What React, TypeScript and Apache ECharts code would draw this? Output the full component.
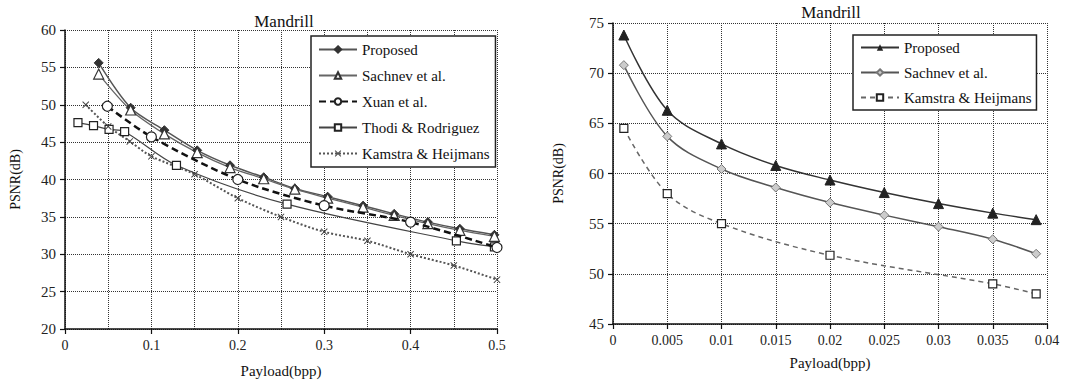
import React, { useEffect, useRef } from "react";
import * as echarts from "echarts";

// Left chart data
const L_PROP_X = [0.039, 0.076, 0.115, 0.153, 0.191, 0.23, 0.266, 0.304, 0.345, 0.381, 0.42, 0.457, 0.497];
const L_PROP_Y = [55.6, 49.6, 46.6, 43.9, 41.9, 40.3, 38.8, 37.7, 36.5, 35.4, 34.3, 33.4, 32.6];
const L_SACH_Y = [54.1, 49.3, 46.1, 43.6, 41.6, 40.1, 38.7, 37.5, 36.3, 35.2, 34.1, 33.2, 32.4];
const L_XUAN_X = [0.049, 0.1, 0.2, 0.3, 0.4, 0.5];
const L_XUAN_Y = [49.8, 45.7, 40.0, 36.5, 34.3, 30.9];
const L_THODI_X = [0.015, 0.033, 0.051, 0.069, 0.129, 0.257, 0.453, 0.497];
const L_THODI_Y = [47.6, 47.2, 46.7, 46.4, 41.9, 36.7, 31.8, 31.0];
const L_KAM_X = [0.024, 0.05, 0.075, 0.1, 0.15, 0.2, 0.25, 0.3, 0.35, 0.4, 0.45, 0.5];
const L_KAM_Y = [50.0, 47.1, 45.1, 43.1, 40.7, 37.5, 35.0, 33.0, 31.8, 30.0, 28.5, 26.6];

// Right chart data
const R_X = [0.001, 0.005, 0.01, 0.015, 0.02, 0.025, 0.03, 0.035, 0.039];
const R_PROP_Y = [73.8, 66.3, 62.95, 60.8, 59.35, 58.1, 57.0, 56.05, 55.4];
const R_SACH_Y = [70.8, 63.7, 60.45, 58.6, 57.1, 55.85, 54.7, 53.45, 52.0];
const R_KAM_X = [0.001, 0.005, 0.01, 0.02, 0.035, 0.039];
const R_KAM_Y = [64.5, 58.0, 55.0, 51.85, 49.0, 48.0];

const LEFT_NAMES = ["Proposed", "Sachnev et al.", "Xuan et al.", "Thodi & Rodriguez", "Kamstra & Heijmans"];
const RIGHT_NAMES = ["Proposed", "Sachnev et al.", "Kamstra & Heijmans"];
const TITLE = "Mandrill";
const X_NAME = "Payload(bpp)";
const Y_NAME = "PSNR(dB)";

const zip = (xs: number[], ys: number[]) => xs.map((x, i) => [x, ys[i]]);

const FONT = "'Liberation Serif', 'Times New Roman', serif";
const X_SYMBOL = "path://M0,1L1,0L5,4L9,0L10,1L6,5L10,9L9,10L5,6L1,10L0,9L4,5Z";

export default function App() {
  const ref = useRef<HTMLDivElement>(null);
  useEffect(() => {
    if (!ref.current) return;
    const chart = echarts.init(ref.current, undefined, { renderer: "svg" });
    const dotted = { type: [1, 1] as any, color: "#333", width: 1 };
    const axisLine = { show: true, lineStyle: { color: "#111", width: 1.5 } };
    const axisTick = { show: true, inside: false, length: 5, lineStyle: { color: "#111", width: 1.2 } };
    const xLabel = { fontFamily: FONT, fontSize: 14, color: "#222", margin: 9 };
    const yLabel = { fontFamily: FONT, fontSize: 15, color: "#222", margin: 9 };
    const nameStyle = { fontFamily: FONT, fontSize: 15, color: "#111" };

    const option: any = {
      animation: false,
      backgroundColor: "#fff",
      graphic: [
        { type: "text", x: 284, y: 21, style: { text: TITLE, font: `17px ${FONT}`, fill: "#111", textAlign: "center", textVerticalAlign: "middle" } },
        { type: "text", x: 831, y: 12, style: { text: TITLE, font: `17px ${FONT}`, fill: "#111", textAlign: "center", textVerticalAlign: "middle" } },
      ],
      grid: [
        { left: 65, top: 30, width: 432, height: 299, containLabel: false },
        { left: 613, top: 23, width: 434, height: 301, containLabel: false },
      ],
      xAxis: [
        {
          gridIndex: 0, type: "value", min: 0, max: 0.5, interval: 0.1,
          name: X_NAME, nameLocation: "middle", nameGap: 34, nameTextStyle: nameStyle,
          axisLine, axisTick, axisLabel: xLabel,
          splitLine: { show: true, lineStyle: dotted },
          minorTick: { show: false, splitNumber: 2 },
          minorSplitLine: { show: true, lineStyle: dotted },
        },
        {
          gridIndex: 1, type: "value", min: 0, max: 0.04, interval: 0.005,
          name: X_NAME, nameLocation: "middle", nameGap: 31, nameTextStyle: nameStyle,
          axisLine, axisTick, axisLabel: xLabel,
          splitLine: { show: true, lineStyle: dotted },
        },
      ],
      yAxis: [
        {
          gridIndex: 0, type: "value", min: 20, max: 60, interval: 5,
          name: Y_NAME, nameLocation: "middle", nameGap: 43, nameTextStyle: { ...nameStyle, fontSize: 14 },
          axisLine, axisTick, axisLabel: yLabel,
          splitLine: { show: true, lineStyle: dotted },
        },
        {
          gridIndex: 1, type: "value", min: 45, max: 75, interval: 5,
          name: Y_NAME, nameLocation: "middle", nameGap: 48, nameTextStyle: { ...nameStyle, fontSize: 14 },
          axisLine, axisTick, axisLabel: yLabel,
          splitLine: { show: true, lineStyle: dotted },
        },
      ],
      legend: [
        {
          data: LEFT_NAMES.map((n) => ({ name: n })),
          orient: "vertical", left: 311, top: 36,
          itemWidth: 38, itemHeight: 8, itemGap: 11,
          padding: [6, 6, 6, 7],
          borderColor: "#222", borderWidth: 1.5, backgroundColor: "#fff",
          textStyle: { fontFamily: FONT, fontSize: 15, color: "#111", lineHeight: 14 },
          selectedMode: false,
        },
        {
          data: RIGHT_NAMES.map((n) => ({ name: "R_" + n })),
          formatter: (n: string) => n.replace(/^R_/, ""),
          orient: "vertical", left: 853, top: 35,
          itemWidth: 38, itemHeight: 8, itemGap: 10,
          padding: [5, 5, 5, 7],
          borderColor: "#222", borderWidth: 1.5, backgroundColor: "#fff",
          textStyle: { fontFamily: FONT, fontSize: 15, color: "#111", lineHeight: 14 },
          selectedMode: false,
        },
      ],
      series: [
        {
          name: LEFT_NAMES[0], type: "line", xAxisIndex: 0, yAxisIndex: 0, smooth: 0.3,
          data: zip(L_PROP_X, L_PROP_Y), symbol: "diamond", symbolSize: 9,
          lineStyle: { color: "#555", width: 1.5 }, itemStyle: { color: "#333", borderColor: "#333", borderWidth: 1 },
        },
        {
          name: LEFT_NAMES[1], type: "line", xAxisIndex: 0, yAxisIndex: 0, smooth: 0.3,
          data: zip(L_PROP_X, L_SACH_Y), symbol: "triangle", symbolSize: 10,
          lineStyle: { color: "#666", width: 1.3 }, itemStyle: { color: "#fff", borderColor: "#333", borderWidth: 1.2 },
        },
        {
          name: LEFT_NAMES[2], type: "line", xAxisIndex: 0, yAxisIndex: 0, smooth: 0.3, z: 4,
          data: zip(L_XUAN_X, L_XUAN_Y), symbol: "circle", symbolSize: 10,
          lineStyle: { color: "#111", width: 2.5, type: [7, 4] }, itemStyle: { color: "#fff", borderColor: "#222", borderWidth: 1.2 },
        },
        {
          name: LEFT_NAMES[3], type: "line", xAxisIndex: 0, yAxisIndex: 0, smooth: 0.3,
          data: zip(L_THODI_X, L_THODI_Y), symbol: "rect", symbolSize: 8,
          lineStyle: { color: "#444", width: 1.2 }, itemStyle: { color: "#fff", borderColor: "#222", borderWidth: 1.2 },
        },
        {
          name: LEFT_NAMES[4], type: "line", xAxisIndex: 0, yAxisIndex: 0, smooth: 0.3,
          data: zip(L_KAM_X, L_KAM_Y), symbol: X_SYMBOL, symbolSize: 7,
          lineStyle: { color: "#555", width: 2, type: [2, 2] }, itemStyle: { color: "#444" },
        },
        {
          name: "R_" + RIGHT_NAMES[0], type: "line", xAxisIndex: 1, yAxisIndex: 1, smooth: 0.35,
          data: zip(R_X, R_PROP_Y), symbol: "triangle", symbolSize: 10,
          lineStyle: { color: "#333", width: 1.5 }, itemStyle: { color: "#222", borderColor: "#222" },
        },
        {
          name: "R_" + RIGHT_NAMES[1], type: "line", xAxisIndex: 1, yAxisIndex: 1, smooth: 0.35,
          data: zip(R_X, R_SACH_Y), symbol: "diamond", symbolSize: 9,
          lineStyle: { color: "#555", width: 1.5 }, itemStyle: { color: "#ccc", borderColor: "#777", borderWidth: 1 },
        },
        {
          name: "R_" + RIGHT_NAMES[2], type: "line", xAxisIndex: 1, yAxisIndex: 1, smooth: 0.35,
          data: zip(R_KAM_X, R_KAM_Y), symbol: "rect", symbolSize: 8,
          lineStyle: { color: "#666", width: 1.5, type: [5, 4] }, itemStyle: { color: "#fff", borderColor: "#222", borderWidth: 1.2 },
        },
      ],
    };
    chart.setOption(option);
    return () => chart.dispose();
  }, []);
  return (
    <div
      ref={ref}
      style={{ position: "fixed", left: 0, top: 0, width: 1069, height: 383, background: "#fff" }}
    />
  );
}
